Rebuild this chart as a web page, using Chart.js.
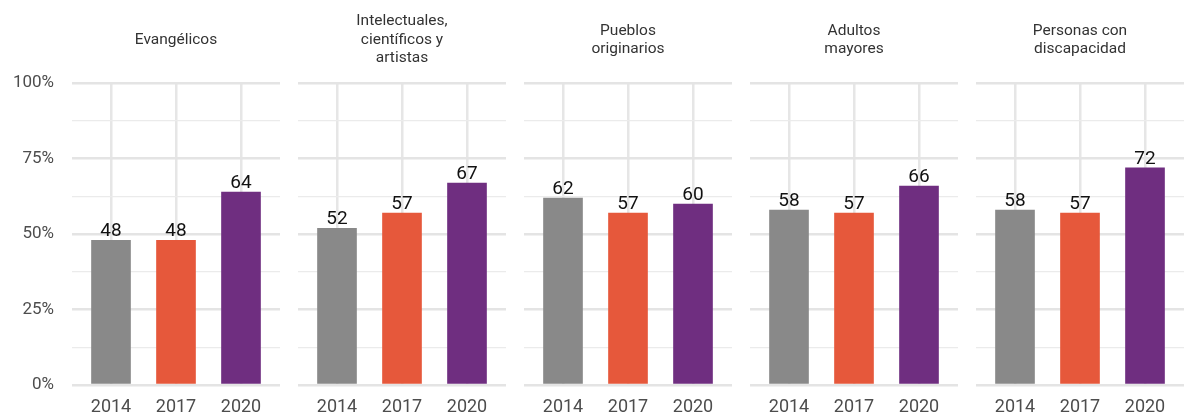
<!DOCTYPE html>
<html>
<head>
<meta charset="utf-8">
<script src="https://cdn.jsdelivr.net/npm/chart.js@4.4.1/dist/chart.umd.min.js"></script>
<style>
  body { margin: 0; background: #fff; }
  #wrap { position: relative; width: 1184px; height: 419px; }
  #wrap canvas { position: absolute; top: 0; }
</style>
</head>
<body>
<div id="wrap"></div>
<script>
// data
const years = ['2014', '2017', '2020'];
const panelTitles = [
  ['Evangélicos'],
  ['Intelectuales,', 'científicos y', 'artistas'],
  ['Pueblos', 'originarios'],
  ['Adultos', 'mayores'],
  ['Personas con', 'discapacidad']
];
const evangelicos = [48, 48, 64];
const intelectuales = [52, 57, 67];
const pueblos = [62, 57, 60];
const adultos = [58, 57, 66];
const discapacidad = [58, 57, 72];
const panelValues = [evangelicos, intelectuales, pueblos, adultos, discapacidad];
const yearColors = ['#898989', '#e6583b', '#6f2e80'];
const yStep = 12.5;
const yLabelEvery = 25;

// panel placement
const panelLeft = [0, 298, 524, 750, 976];
const panelWidth = [280, 208, 208, 208, 208];
const axisWidth = 72;

const titlePlugin = {
  id: 'panelTitle',
  afterDraw(chart, args, opts) {
    const { ctx, chartArea } = chart;
    const lines = opts.lines || [];
    const cx = (chartArea.left + chartArea.right) / 2;
    const lh = 18.5;
    ctx.save();
    ctx.font = '15.5px Roboto';
    ctx.fillStyle = '#333333';
    ctx.textAlign = 'center';
    ctx.textBaseline = 'middle';
    lines.forEach((t, i) => {
      ctx.fillText(t, cx, 40 + (i - (lines.length - 1) / 2) * lh);
    });
    ctx.restore();
  }
};

const valueLabels = {
  id: 'valueLabels',
  afterDatasetsDraw(chart) {
    const { ctx } = chart;
    ctx.save();
    ctx.font = '19px Roboto';
    ctx.fillStyle = '#111111';
    ctx.textAlign = 'center';
    ctx.textBaseline = 'alphabetic';
    chart.getDatasetMeta(0).data.forEach((bar, i) => {
      const v = chart.data.datasets[0].data[i].y;
      ctx.fillText(Math.round(v), bar.x, bar.y - 4);
    });
    ctx.restore();
  }
};

const wrap = document.getElementById('wrap');

panelValues.forEach((vals, p) => {
  const cv = document.createElement('canvas');
  cv.width = panelWidth[p];
  cv.height = 419;
  cv.style.left = panelLeft[p] + 'px';
  wrap.appendChild(cv);
  const first = p === 0;

  new Chart(cv.getContext('2d'), {
    type: 'bar',
    data: {
      datasets: [{
        data: vals.map((v, i) => ({ x: i, y: v })),
        backgroundColor: yearColors,
        borderWidth: 0,
        categoryPercentage: 1,
        barPercentage: 0.61
      }]
    },
    options: {
      responsive: false,
      animation: false,
      layout: { padding: { top: 83, left: 0, right: 0, bottom: 0 } },
      plugins: {
        legend: { display: false },
        tooltip: { enabled: false },
        panelTitle: { lines: panelTitles[p] }
      },
      scales: {
        x: {
          type: 'linear',
          min: -0.6,
          max: 2.6,
          offset: false,
          afterBuildTicks: s => { s.ticks = years.map((y, i) => ({ value: i })); },
          afterFit: s => { s.height = 34; },
          ticks: {
            callback: v => years[v],
            color: '#4d4d4d',
            font: { family: 'Roboto', size: 18 },
            padding: 12,
            maxRotation: 0,
            autoSkip: false
          },
          grid: { offset: false, color: '#e6e6e6', lineWidth: 2.5, drawTicks: false },
          border: { display: false }
        },
        y: {
          min: 0,
          max: 100,
          afterBuildTicks: s => {
            const t = [];
            for (let v = 0; v <= 100; v += yStep) t.push({ value: v });
            s.ticks = t;
          },
          afterFit: s => { s.width = first ? axisWidth : 0; },
          ticks: {
            display: first,
            callback: v => (v % yLabelEvery === 0 ? v + '%' : ''),
            color: '#4d4d4d',
            font: { family: 'Roboto', size: 17 },
            padding: 18,
            autoSkip: false
          },
          grid: {
            color: c => (c.tick.value % yLabelEvery === 0 ? '#e4e4e4' : '#ebebeb'),
            lineWidth: c => (c.tick.value % yLabelEvery === 0 ? 2.5 : 1.2),
            drawTicks: false
          },
          border: { display: false }
        }
      }
    },
    plugins: [titlePlugin, valueLabels]
  });
});
</script>
</body>
</html>
